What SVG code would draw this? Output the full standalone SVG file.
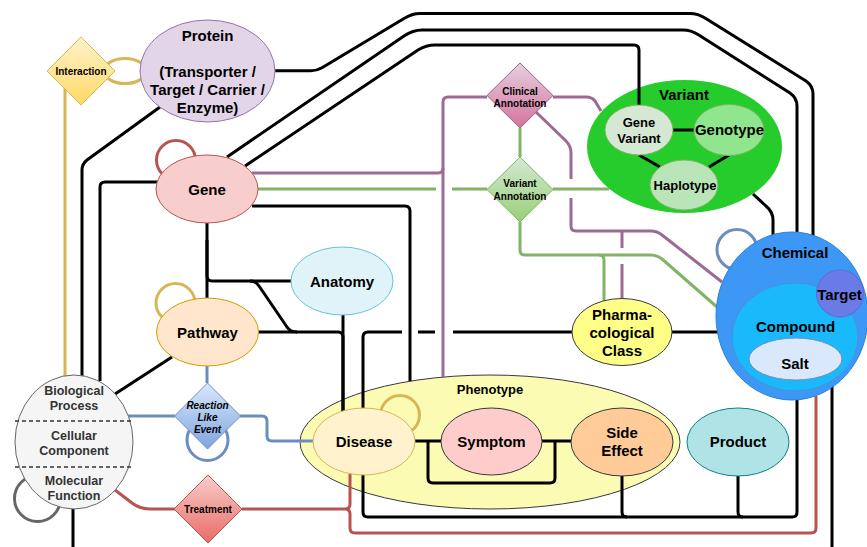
<svg xmlns="http://www.w3.org/2000/svg" width="867" height="547" viewBox="0 0 867 547">
<defs>
<linearGradient id="gInt" x1="0" y1="0" x2="0" y2="1"><stop offset="0" stop-color="#fff2cc"/><stop offset="1" stop-color="#ffd966"/></linearGradient>
<linearGradient id="gCli" x1="0" y1="0" x2="0" y2="1"><stop offset="0" stop-color="#e6d0de"/><stop offset="1" stop-color="#d5739d"/></linearGradient>
<linearGradient id="gVar" x1="0" y1="0" x2="0" y2="1"><stop offset="0" stop-color="#d5e8d4"/><stop offset="1" stop-color="#97d077"/></linearGradient>
<linearGradient id="gRea" x1="0" y1="0" x2="0" y2="1"><stop offset="0" stop-color="#dae8fc"/><stop offset="1" stop-color="#7ea6e0"/></linearGradient>
<linearGradient id="gTre" x1="0" y1="0" x2="0" y2="1"><stop offset="0" stop-color="#f8cecc"/><stop offset="1" stop-color="#ea6b66"/></linearGradient>
</defs>
<style>
text{font-family:"Liberation Sans",Arial,sans-serif;font-weight:bold;text-anchor:middle;fill:#000;font-size:15px}
.e{fill:none;stroke-width:3;stroke-linejoin:round}
.k{stroke:#000}
.r{stroke:#b85450}
.b{stroke:#6c8ebf}
.g{stroke:#82b366}
.p{stroke:#9c6a93}
.y{stroke:#d6b656}
.n{stroke-width:1}
.s10{font-size:10px}
.s13{font-size:13px}
.s125{font-size:12.5px;fill:#333}
.it{font-style:italic}
</style>
<rect x="0" y="0" width="867" height="547" fill="#fff"/>

<g id="phenotype">
<ellipse cx="490" cy="442" rx="190" ry="67" fill="#fbfbb4" stroke="#36393d" stroke-width="1"/>
<text x="490" y="393.5" class="s13">Phenotype</text>
</g>
<g id="variant">
<ellipse cx="684.5" cy="146.5" rx="97.5" ry="66.5" fill="#25cc2b"/>
<text x="684" y="99.5">Variant</text>
</g>

<g id="connectors">
<!-- self loops -->
<ellipse cx="125" cy="71" rx="21" ry="12.5" class="e y"/>
<circle cx="176" cy="160" r="19.5" class="e r"/>
<circle cx="175.5" cy="303" r="19.5" class="e y"/>
<circle cx="400" cy="415" r="19.5" class="e y"/>
<circle cx="207.5" cy="440" r="20.5" class="e b"/>
<circle cx="37.5" cy="498.5" r="23" class="e" stroke="#666" stroke-width="3.5"/>
<circle cx="737" cy="249.5" r="20" class="e b"/>
<!-- yellow -->
<path class="e y" d="M65,88 L65,376"/>
<!-- black -->
<path class="e k" d="M275,70.7 L311,70.7 Q317,70.7 322,67.7 L404,18.5 Q412,13.5 420,13.5 L690,13.5 Q698,13.5 705,18 L806,81 Q813,86 813,94 L813,236"/>
<path class="e k" d="M227,157 L404,36 Q413,30 422,30 L683,30 Q691,30 698,34.5 L790,93 Q797,98 797,106 L797,232"/>
<path class="e k" d="M245,166 L418,50 Q426,45 435,45 L634,45 Q639,45 639,50 L639,105"/>
<path class="e k" d="M160,107 L87,160 Q82,164 82,170 L82,376"/>
<path class="e k" d="M158,182 L105,182 Q100,182 100,187 L100,381"/>
<path class="e k" d="M172,357 L115,394"/>
<path class="e k" d="M207,223 L207,298"/>
<path class="e k" d="M207,240 L207,276 Q207,281 212,281 L291,281"/>
<path class="e k" d="M250,281 Q256,281 259,286 L287,327 Q290,332 297,332"/>
<path class="e k" d="M258,332 L338,332 Q343,332 343,337 L343,411"/>
<path class="e k" d="M343,315 L343,411"/>
<path class="e k" d="M252,206 L405,206 Q410,206 410,211 L410,381"/>
<path class="e k" d="M572,332 L453,332 M435,332 L418,332 M402,332 L368,332 Q363,332 363,337 L363,512 Q363,517 368,517 L792,517 Q797,517 797,512 L797,400"/>
<path class="e k" d="M622,476 L622,512 Q622,517 627,517"/>
<path class="e k" d="M738,476 L738,512 Q738,517 743,517"/>
<path class="e k" d="M672,332 L718,332"/>
<path class="e k" d="M753,194 L766,206 Q773,212 773,220 L773,236"/>
<path class="e k" d="M415,441 L441,441 M542,441 L572,441"/>
<path class="e k" d="M428,441 L428,478 Q428,483 433,483 L550,483 Q555,483 555,478 L555,441"/>
<path class="e k" d="M73,509 L73,550 M832,386 L832,550"/>
<path class="e k" d="M673,130 L694,130 M639,155 L660,167 M729,155 L709,167"/>
<!-- red -->
<path class="e r" d="M115,490 L132,503 Q140,509 150,509 L175,509"/>
<path class="e r" d="M242,509 L345,509 Q350,509 350,504 L350,474 M345,509 Q350,509 350,514 L350,528 Q350,533 355,533 L811,533 Q816,533 816,528 L816,396"/>
<!-- blue -->
<path class="e b" d="M207,366 L207,383"/>
<path class="e b" d="M128,416 L175,416"/>
<path class="e b" d="M240,416 L262,416 Q267,416 267,421 L267,436 Q267,441 272,441 L313,441"/>
<!-- green -->
<path class="e g" d="M258,189 L436,189 M452,189 L487,189 M553,189 L609,189"/>
<path class="e g" d="M520,128 L520,157"/>
<path class="e g" d="M520,222 L520,250 Q520,255 525,255 L599,255 Q604,255 604,260 L604,301"/>
<path class="e g" d="M599,255 L651,255 Q657,255 662,259 L717,307"/>
<!-- purple -->
<path class="e p" d="M252,173 L438,173 Q443,173 443,168 L443,102 Q443,97 448,97 L487,97"/>
<path class="e p" d="M443,168 L443,377"/>
<path class="e p" d="M553,97 L586,97 Q592,97 595,101 L601,111"/>
<path class="e p" d="M536,112 L566,141 Q571,146 571,153 L571,179 M571,198 L571,226 Q571,231 576,231 L651,231 Q657,231 662,235 L722,282"/>
<path class="e p" d="M622,231 L622,248 M622,264 L622,300"/>
</g>

<g id="protein">
<ellipse cx="207.5" cy="71" rx="67.5" ry="51" fill="#e1d5e7" stroke="#9673a6"/>
<text x="207.5" y="40.5">Protein</text>
<text x="207.5" y="77">(Transporter /</text>
<text x="207.5" y="95">Target / Carrier /</text>
<text x="207.5" y="113">Enzyme)</text>
</g>
<g id="interaction">
<path d="M81,37 L115,71 L81,105 L47,71 Z" fill="url(#gInt)" stroke="#d6b656"/>
<text x="81" y="74.5" class="s10">Interaction</text>
</g>
<g id="gene">
<ellipse cx="207" cy="189" rx="51" ry="34" fill="#f8cecc" stroke="#b85450"/>
<text x="207" y="194.5">Gene</text>
</g>
<g id="pathway">
<ellipse cx="207.5" cy="332" rx="51" ry="34" fill="#ffe6cc" stroke="#d79b00"/>
<text x="207.5" y="337.5">Pathway</text>
</g>
<g id="anatomy">
<ellipse cx="342" cy="281" rx="51" ry="34" fill="#e0f3f8" stroke="#66c5d3"/>
<text x="342" y="286.5">Anatomy</text>
</g>
<g id="go">
<ellipse cx="74" cy="442" rx="59" ry="67" fill="#f5f5f5" stroke="#666"/>
<path d="M15,421 L133,421 M15,467 L133,467" stroke="#333" stroke-width="1.5" stroke-dasharray="4,3" fill="none"/>
<text x="74" y="395" class="s125">Biological</text>
<text x="74" y="409.5" class="s125">Process</text>
<text x="74" y="440" class="s125">Cellular</text>
<text x="74" y="454.5" class="s125">Component</text>
<text x="74" y="485" class="s125">Molecular</text>
<text x="74" y="500" class="s125">Function</text>
</g>
<g id="reaction">
<path d="M207.5,383 L240.5,416 L207.5,449 L174.5,416 Z" fill="url(#gRea)" stroke="#6c8ebf"/>
<text x="207.5" y="408.5" class="s10 it">Reaction</text>
<text x="207.5" y="420.5" class="s10 it">Like</text>
<text x="207.5" y="432.5" class="s10 it">Event</text>
</g>
<g id="treatment">
<path d="M208,475 L242,509 L208,543 L174,509 Z" fill="url(#gTre)" stroke="#b85450"/>
<text x="208" y="512.5" class="s10">Treatment</text>
</g>
<g id="clinical">
<path d="M520,63 L553,95.5 L520,128 L487,95.5 Z" fill="url(#gCli)" stroke="#996185"/>
<text x="520" y="94.5" class="s10">Clinical</text>
<text x="520" y="106.5" class="s10">Annotation</text>
</g>
<g id="variantannotation">
<path d="M520,157 L553,189.5 L520,222 L487,189.5 Z" fill="url(#gVar)" stroke="#82b366"/>
<text x="520" y="187" class="s10">Variant</text>
<text x="520" y="199.5" class="s10">Annotation</text>
</g>
<g id="genevariant">
<ellipse cx="639" cy="130" rx="34" ry="25" fill="#d5e8d4" stroke="#82b366"/>
<text x="639" y="127" class="s13">Gene</text>
<text x="639" y="142.5" class="s13">Variant</text>
</g>
<g id="genotype">
<ellipse cx="729" cy="130" rx="35" ry="25.5" fill="#8fe68f" stroke="#82b366"/>
<text x="729.5" y="134.5">Genotype</text>
</g>
<g id="haplotype">
<ellipse cx="684" cy="185" rx="34" ry="25" fill="#b9e5b9" stroke="#82b366"/>
<text x="685" y="189.5" class="s13">Haplotype</text>
</g>
<g id="disease">
<ellipse cx="364" cy="441.5" rx="51" ry="33.5" fill="#fff2cc" stroke="#d6b656"/>
<text x="364" y="447">Disease</text>
</g>
<g id="symptom">
<ellipse cx="491.5" cy="441.5" rx="50.5" ry="33.5" fill="#ffcccc" stroke="#36393d"/>
<text x="491.5" y="447">Symptom</text>
</g>
<g id="sideeffect">
<ellipse cx="622" cy="442" rx="51" ry="34" fill="#ffcc99" stroke="#36393d"/>
<text x="622" y="438">Side</text>
<text x="622" y="456">Effect</text>
</g>
<g id="product">
<ellipse cx="738" cy="442" rx="51" ry="34" fill="#b0e3e6" stroke="#0e8088"/>
<text x="738" y="447">Product</text>
</g>
<g id="pharmaclass">
<ellipse cx="622" cy="332" rx="50" ry="33.5" fill="#ffff88" stroke="#36393d"/>
<text x="622" y="320">Pharma-</text>
<text x="622" y="338">cological</text>
<text x="622" y="356">Class</text>
</g>
<g id="chemical">
<ellipse cx="792" cy="316" rx="76" ry="84" fill="#3d98f5" stroke="#2b7fd8"/>
<text x="795" y="258">Chemical</text>
<ellipse cx="795" cy="337" rx="63" ry="54" fill="#1ab9fb" stroke="#4a90d9"/>
<text x="795.5" y="331.5">Compound</text>
<ellipse cx="795.5" cy="359" rx="46.5" ry="21" fill="#dae8fc" stroke="#6c8ebf"/>
<text x="795" y="368.5">Salt</text>
<circle cx="840" cy="293.5" r="23.5" fill="#6a7be8" stroke="#5a6ad0"/>
<text x="839.5" y="299.5">Target</text>
</g>
</svg>
